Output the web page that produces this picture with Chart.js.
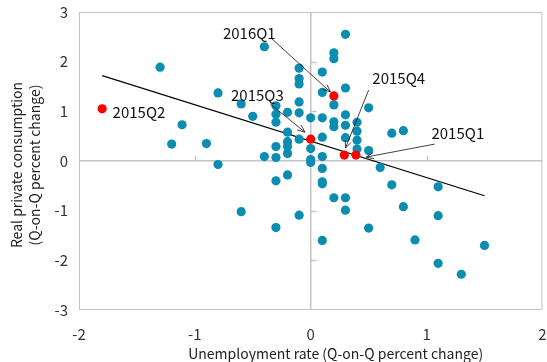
<!DOCTYPE html>
<html>
<head>
<meta charset="utf-8">
<script src="https://cdn.jsdelivr.net/npm/chart.js@4.4.0/dist/chart.umd.min.js"></script>
<style>
html, body { margin: 0; padding: 0; background: #fff; }
#wrap { width: 547px; height: 362px; }
</style>
</head>
<body>
<div id="wrap"><canvas id="chart"></canvas></div>
<script>
// unemployment rate change (x) vs real private consumption change (y), quarterly
const unempX = [
  -1.30, -1.20, -1.11, -0.90, -0.80, -0.80, -0.60, -0.60, -0.50, -0.40,
  -0.40, -0.30, -0.30, -0.30, -0.30, -0.30, -0.30, -0.30, -0.20, -0.20,
  -0.20, -0.20, -0.20, -0.20, -0.10, -0.10, -0.10, -0.10, -0.10, -0.10,
  -0.10, 0.00, 0.00, 0.00, 0.00, 0.10, 0.10, 0.10, 0.10, 0.10,
  0.10, 0.10, 0.10, 0.10, 0.20, 0.20, 0.20, 0.20, 0.20, 0.20,
  0.30, 0.30, 0.30, 0.30, 0.30, 0.30, 0.30, 0.40, 0.40, 0.40,
  0.40, 0.50, 0.50, 0.50, 0.60, 0.70, 0.70, 0.80, 0.80, 0.90,
  1.10, 1.10, 1.10, 1.30, 1.50
];
const consY = [
  1.89, 0.34, 0.73, 0.35, 1.37, -0.07, 1.15, -1.02, 0.90, 2.30,
  0.09, 1.11, 0.94, 0.78, 0.29, 0.07, -0.40, -1.34, 0.98, 0.58,
  0.39, 0.29, 0.15, -0.28, 1.87, 1.66, 1.55, 1.19, 0.97, 0.44,
  -1.09, 0.87, 0.25, 0.03, -0.03, 1.79, 1.38, 0.87, 0.48, 0.09,
  -0.15, -0.42, -0.46, -1.60, 2.18, 2.06, 1.13, 0.79, 0.69, -0.74,
  2.55, 1.47, 0.93, 0.72, 0.47, -0.74, -0.99, 0.78, 0.60, 0.42,
  0.24, 1.07, 0.21, -1.35, -0.13, 0.56, -0.48, 0.61, -0.92, -1.59,
  -0.52, -1.10, -2.06, -2.28, -1.70
];

// highlighted quarters
const quarterNames = ['2015Q1', '2015Q2', '2015Q3', '2015Q4', '2016Q1'];
const quarterX = [0.39, -1.80, 0.00, 0.29, 0.20];
const quarterY = [0.12, 1.05, 0.44, 0.12, 1.31];

// linear trend end points
const trendX = [-1.8, 1.5];
const trendY = [1.72, -0.70];

const xTicks = [-2, -1, 0, 1, 2];
const yTicks = [-3, -2, -1, 0, 1, 2, 3];

const FONT = '"Noto Sans CJK KR", "Open Sans", sans-serif';

// label text position and arrow (data units)
const callouts = [
  { text: '2016Q1', at: [-0.53, 2.58], from: [-0.34, 2.47], to: [0.17, 1.39] },
  { text: '2015Q3', at: [-0.46, 1.33], from: [-0.35, 1.15], to: [-0.05, 0.58] },
  { text: '2015Q4', at: [0.76, 1.67], from: [0.50, 1.43], to: [0.30, 0.26] },
  { text: '2015Q1', at: [1.27, 0.56], from: [1.07, 0.34], to: [0.48, 0.08] },
  { text: '2015Q2', at: [-1.71, 0.99], align: 'left' }
];

function toPts(xs, ys) {
  return xs.map((x, i) => ({ x: x, y: ys[i] }));
}

const decorPlugin = {
  id: 'decor',
  beforeDatasetsDraw(chart) {
    const c = chart.ctx, a = chart.chartArea;
    const sx = chart.scales.x, sy = chart.scales.y;
    const x0 = sx.getPixelForValue(0), y0 = sy.getPixelForValue(0);
    c.save();
    c.strokeStyle = '#c4c4c4';
    c.lineWidth = 1;
    c.strokeRect(a.left + 0.5, a.top + 0.5, a.right - a.left - 1, a.bottom - a.top - 1);
    // small tick marks on the zero lines
    c.lineWidth = 1.5;
    yTicks.forEach(v => {
      if (v === 0 || v === 3 || v === -3) return;
      const p = Math.round(sy.getPixelForValue(v)) + 0.5;
      c.beginPath(); c.moveTo(x0, p); c.lineTo(x0 + 6, p); c.stroke();
    });
    xTicks.forEach(v => {
      if (v === 0 || v === 2 || v === -2) return;
      const p = Math.round(sx.getPixelForValue(v)) + 0.5;
      c.beginPath(); c.moveTo(p, y0); c.lineTo(p, y0 - 5); c.stroke();
    });
    c.restore();
  },
  afterDraw(chart) {
    const c = chart.ctx, a = chart.chartArea;
    const sx = chart.scales.x, sy = chart.scales.y;
    c.save();
    c.fillStyle = '#111';
    c.strokeStyle = '#111';
    c.lineWidth = 0.8;
    c.font = '15px ' + FONT;
    c.textBaseline = 'middle';
    callouts.forEach(o => {
      c.textAlign = o.align || 'center';
      c.fillText(o.text, sx.getPixelForValue(o.at[0]), sy.getPixelForValue(o.at[1]));
      if (!o.from) return;
      const x1 = sx.getPixelForValue(o.from[0]), y1 = sy.getPixelForValue(o.from[1]);
      const x2 = sx.getPixelForValue(o.to[0]), y2 = sy.getPixelForValue(o.to[1]);
      c.beginPath(); c.moveTo(x1, y1); c.lineTo(x2, y2); c.stroke();
      const ang = Math.atan2(y2 - y1, x2 - x1), L = 8, w = 0.4;
      c.beginPath();
      c.moveTo(x2 - L * Math.cos(ang - w), y2 - L * Math.sin(ang - w));
      c.lineTo(x2, y2);
      c.lineTo(x2 - L * Math.cos(ang + w), y2 - L * Math.sin(ang + w));
      c.stroke();
    });
    // axis titles
    c.fillStyle = '#222';
    c.font = '14px ' + FONT;
    c.textAlign = 'center';
    c.fillText('Unemployment rate (Q-on-Q percent change)', (a.left + a.right) / 2 + 25, 354);
    c.translate(26, (a.top + a.bottom) / 2 + 4);
    c.rotate(-Math.PI / 2);
    c.fillText('Real private consumption', 0, -9);
    c.fillText('(Q-on-Q percent change)', 0, 9);
    c.restore();
  }
};

const ctx = document.getElementById('chart');
new Chart(ctx, {
  type: 'scatter',
  data: {
    datasets: [
      {
        label: 'trend',
        type: 'line',
        data: toPts(trendX, trendY),
        borderColor: '#000',
        borderWidth: 1.2,
        pointRadius: 0,
        fill: false,
        order: 3
      },
      {
        label: 'quarters',
        data: toPts(unempX, consY),
        backgroundColor: '#0a8db0',
        borderWidth: 0,
        pointRadius: 4.6,
        order: 2
      },
      {
        label: 'highlight',
        data: toPts(quarterX, quarterY),
        backgroundColor: '#ff0000',
        borderWidth: 0,
        pointRadius: 4.6,
        order: 1
      }
    ]
  },
  options: {
    animation: false,
    responsive: true,
    maintainAspectRatio: false,
    layout: { padding: { top: 12, right: 4, left: 0, bottom: 0 } },
    plugins: { legend: { display: false }, tooltip: { enabled: false } },
    scales: {
      x: {
        type: 'linear', min: -2, max: 2,
        afterBuildTicks: s => { s.ticks = xTicks.map(v => ({ value: v })); },
        afterFit: s => { s.height = 52; s.paddingLeft = 0; s.paddingRight = 0; },
        ticks: { color: '#333', font: { size: 15, family: FONT }, padding: 15 },
        grid: {
          drawTicks: false,
          color: c => (c.tick && c.tick.value === 0 ? '#c4c4c4' : 'transparent'),
          lineWidth: 1.5
        },
        border: { display: false }
      },
      y: {
        type: 'linear', min: -3, max: 3,
        afterBuildTicks: s => { s.ticks = yTicks.map(v => ({ value: v })); },
        afterFit: s => { s.width = 79; s.paddingTop = 0; s.paddingBottom = 0; },
        ticks: { color: '#333', font: { size: 15, family: FONT }, padding: 11 },
        grid: {
          drawTicks: false,
          color: c => (c.tick && c.tick.value === 0 ? '#c4c4c4' : 'transparent'),
          lineWidth: 1.5
        },
        border: { display: false }
      }
    }
  },
  plugins: [decorPlugin]
});
</script>
</body>
</html>
